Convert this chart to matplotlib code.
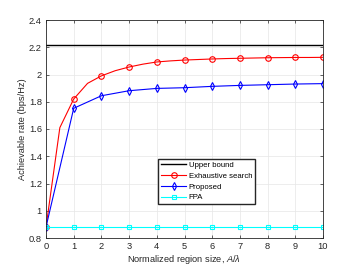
import matplotlib

matplotlib.use("Agg")
import matplotlib.pyplot as plt

# region size A/lambda
x_int = [0, 1, 2, 3, 4, 5, 6, 7, 8, 9, 10]
x_half = [0, 0.5, 1, 1.5, 2, 2.5, 3, 3.5, 4, 4.5, 5, 5.5, 6, 6.5, 7,
          7.5, 8, 8.5, 9, 9.5, 10]

upper_bound = [2.213] * len(x_int)
exhaustive = [0.88, 1.61, 1.82, 1.935, 1.99, 2.028, 2.055, 2.076, 2.092, 2.1,
              2.106, 2.11, 2.114, 2.117, 2.119, 2.121, 2.123, 2.124, 2.125,
              2.125, 2.126]
proposed = [0.88, 1.752, 1.844, 1.881, 1.898, 1.903, 1.913, 1.92, 1.925,
            1.93, 1.933]
fpa = [0.88] * len(x_int)

plt.rcParams["font.family"] = ["Liberation Sans", "DejaVu Sans"]
plt.rcParams["mathtext.fontset"] = "custom"
plt.rcParams["mathtext.it"] = "Liberation Sans:italic"
plt.rcParams["mathtext.rm"] = "Liberation Sans"

fig = plt.figure(figsize=(3.57, 2.68), dpi=100)
ax = fig.add_axes([46 / 357, 1 - 238 / 268, (323 - 46) / 357, (238 - 20) / 268])

ax.plot(x_int, upper_bound, color="black", lw=1.0, label="Upper bound")
ax.plot(x_half, exhaustive, color="red", lw=0.8, marker="o", markevery=2,
        ms=4, mfc="none", mew=0.8, label="Exhaustive search")
ax.plot(x_int, proposed, color="blue", lw=0.8, marker="d", ms=4.2,
        mfc="none", mew=0.8, label="Proposed")
ax.plot(x_int, fpa, color="cyan", lw=0.8, marker="s", ms=3,
        mfc="none", mew=0.8, label="FPA")

ax.set_xlim(0, 10)
ax.set_ylim(0.8, 2.4)
ax.set_xticks(range(0, 11))
ax.set_yticks([0.8, 1, 1.2, 1.4, 1.6, 1.8, 2, 2.2, 2.4])
ax.set_yticklabels(["0.8", "1", "1.2", "1.4", "1.6", "1.8", "2", "2.2", "2.4"])
ax.tick_params(direction="in", labelsize=6.7, length=2.5, width=0.5,
               top=True, right=True, colors="#262626", pad=3)
for s in ax.spines.values():
    s.set_linewidth(0.6)
    s.set_color("#262626")
ax.grid(True, color="#e6e6e6", lw=0.5)
ax.set_axisbelow(True)

ax.set_xlabel(r"Normalized region size, $A/\lambda$", fontsize=6.7, labelpad=1,
              color="#262626")
ax.set_ylabel("Achievable rate (bps/Hz)", fontsize=6.7, labelpad=1.5,
              color="#262626")

ax.legend(loc="upper left", bbox_to_anchor=((158 - 46) / 277, 1 - (159 - 20) / 218),
          fontsize=5.6, frameon=True, fancybox=False, edgecolor="#262626",
          framealpha=1, borderpad=0.35, labelspacing=0.42, handlelength=3.3,
          handletextpad=0.3, borderaxespad=0)

fig.savefig("out.png", dpi=100)
